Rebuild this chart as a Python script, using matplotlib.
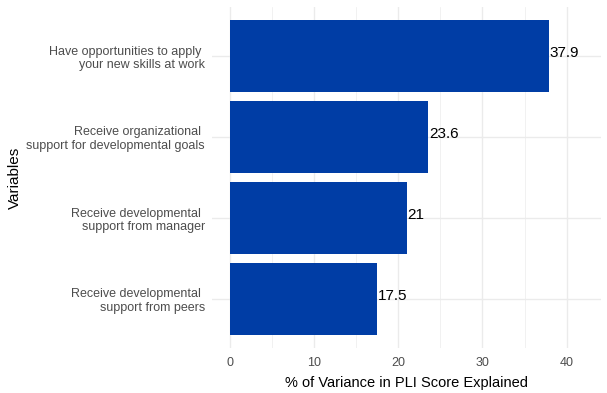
import matplotlib
matplotlib.use("Agg")
import matplotlib.pyplot as plt
import numpy as np

categories = [
    "Have opportunities to apply \nyour new skills at work",
    "Receive organizational \nsupport for developmental goals",
    "Receive developmental \nsupport from manager",
    "Receive developmental \nsupport from peers",
]
values = [37.9, 23.6, 21, 17.5]
value_labels = ["37.9", "23.6", "21", "17.5"]
xticks = [0, 10, 20, 30, 40]

plt.rcParams['font.family'] = ['Liberation Sans', 'DejaVu Sans']

W, H = 607, 393
fig = plt.figure(figsize=(W / 100, H / 100), dpi=100)
left, right, top, bottom = 211.8, 601.3, 7.4, 347.6
ax = fig.add_axes([left / W, 1 - bottom / H, (right - left) / W, (bottom - top) / H])

n = len(categories)
ypos = np.arange(n)[::-1]
ax.barh(ypos, values, height=0.9, color="#003DA5", zorder=3)
for y, v, lab in zip(ypos, values, value_labels):
    ax.annotate(lab, (v, y), xytext=(0.5, 2.2), textcoords="offset points",
                ha="left", va="center", fontsize=11, color="black", zorder=4)

ax.set_xlim(-2.1, 44.1)
ax.set_ylim(-0.6, n - 1 + 0.6)
ax.set_xticks(xticks)
ax.set_xticks([5, 15, 25, 35], minor=True)
ax.set_yticks(ypos)
ax.set_yticklabels(categories, fontsize=9, color="#4D4D4D")
ax.tick_params(axis="x", labelsize=9, labelcolor="#4D4D4D", length=0, pad=7)
ax.tick_params(axis="x", which="minor", length=0)
ax.tick_params(axis="y", length=0, pad=5)
for lab in ax.get_yticklabels():
    lab.set_multialignment("right")

ax.grid(True, which="major", color="#EBEBEB", linewidth=1.0, zorder=0)
ax.grid(True, which="minor", axis="x", color="#EBEBEB", linewidth=0.5, zorder=0)
for s in ax.spines.values():
    s.set_visible(False)

ax.set_xlabel("% of Variance in PLI Score Explained", fontsize=10.5, color="black", labelpad=5)
ax.set_ylabel("Variables", fontsize=11, color="black")
ax.yaxis.set_label_coords(15 / W, 1 - 178 / H, transform=fig.transFigure)
ax.yaxis.label.set_verticalalignment("center")

fig.savefig("out.png", dpi=100, facecolor="white")
